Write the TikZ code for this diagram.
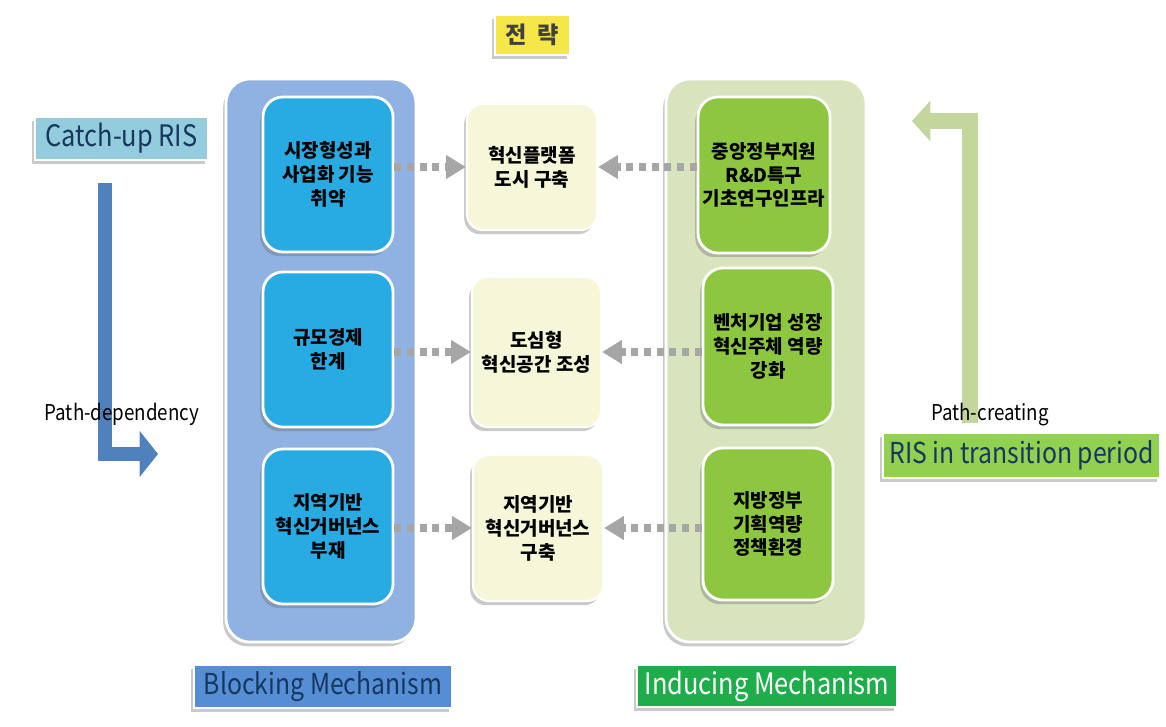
\documentclass[tikz,border=0pt]{standalone}
\usepackage{fontspec}
\setmainfont{Noto Sans CJK KR}
\newfontfamily\narrowfont{Noto Sans CJK KR}[FakeStretch=0.86]
\usetikzlibrary{arrows.meta, shadows, calc}

\definecolor{blockbg}{RGB}{143,178,226}
\definecolor{blockbox}{RGB}{40,170,226}
\definecolor{midbg}{RGB}{246,246,216}
\definecolor{inducebg}{RGB}{215,228,189}
\definecolor{inducebox}{RGB}{141,198,63}
\definecolor{catchbg}{RGB}{147,205,221}
\definecolor{transbg}{RGB}{146,208,80}
\definecolor{blocklbl}{RGB}{85,142,213}
\definecolor{inducelbl}{RGB}{31,173,75}
\definecolor{strategy}{RGB}{245,230,74}
\definecolor{darkblue}{RGB}{23,55,94}
\definecolor{dotgray}{RGB}{166,166,166}
\definecolor{pdblue}{RGB}{79,129,189}
\definecolor{pcgreen}{RGB}{195,214,155}

\tikzset{
  softshadow/.style={drop shadow={shadow xshift=-2pt, shadow yshift=-3pt, opacity=.35, fill=black!60}},
  container/.style={rounded corners=0.6cm, draw=white, line width=2pt, softshadow},
  box/.style={rounded corners=0.5cm, draw=white, line width=2pt, align=center,
    font=\fontsize{13.5}{17}\selectfont\bfseries, softshadow},
  midbox/.style={rounded corners=0.4cm, draw=white, line width=1.5pt, fill=midbg, align=center,
    font=\fontsize{13.5}{17}\selectfont\bfseries, softshadow},
  lbl/.style={draw=white, line width=0.8pt, inner sep=0pt, softshadow},
  dotarrow/.style={draw=dotgray, line width=5pt, dash pattern=on 5pt off 4pt,
    -{Triangle[length=14pt, width=16pt]}},
  pathtxt/.style={font=\narrowfont\fontsize{15.5}{18}\selectfont}
}

\begin{document}
\begin{tikzpicture}[x=0.025cm, y=-0.025cm]
\useasboundingbox (0,0) rectangle (1166,727);

% big frames
\node[container, fill=blockbg, minimum width=4.75cm, minimum height=14.075cm] (block) at (321,360.5) {};
\node[container, fill=inducebg, minimum width=5cm, minimum height=14.075cm] (induce) at (766,360.5) {};

% strategy title
\node[lbl, fill=strategy, text=black!75, minimum width=1.875cm, minimum height=1cm,
  font=\fontsize{16.5}{19}\selectfont\bfseries] (strat) at (532.5,35) {전\ \ 략};

% blocking side
\node[box, fill=blockbox, minimum width=3.25cm, minimum height=3.875cm] (b1) at (328,174.5) {시장형성과\\사업화 기능\\취약};
\node[box, fill=blockbox, minimum width=3.25cm, minimum height=3.875cm] (b2) at (328,349.5) {규모경제\\한계};
\node[box, fill=blockbox, minimum width=3.25cm, minimum height=3.875cm] (b3) at (328,526.5) {지역기반\\혁신거버넌스\\부재};

% strategies
\node[midbox, minimum width=3.25cm, minimum height=3.15cm] (m1) at (532,167) {혁신플랫폼\\도시 구축};
\node[midbox, minimum width=3.225cm, minimum height=3.75cm] (m2) at (536.5,352) {도심형\\혁신공간 조성};
\node[midbox, minimum width=3.25cm, minimum height=3.65cm] (m3) at (538,528) {지역기반\\혁신거버넌스\\구축};

% inducing side
\node[box, fill=inducebox, minimum width=3.3cm, minimum height=3.9cm] (g1) at (764,175) {중앙정부지원\\R\&D특구\\기초연구인프라};
\node[box, fill=inducebox, minimum width=3.25cm, minimum height=3.925cm] (g2) at (768,346.5) {벤처기업 성장\\혁신주체 역량\\강화};
\node[box, fill=inducebox, minimum width=3.25cm, minimum height=3.8cm] (g3) at (768,524) {지방정부\\기획역량\\정책환경};

% dotted arrows
\foreach \i in {1,2,3}{
  \draw[dotarrow] (m\i.west -| b\i.east) -- (m\i.west);
  \draw[dotarrow] (m\i.east -| g\i.west) -- (m\i.east);
}

% labels
\node[lbl, fill=catchbg, text=darkblue, minimum width=4.325cm, minimum height=1.075cm,
  font=\narrowfont\fontsize{21}{24}\selectfont] (catch) at (121.5,138.5) {Catch-up RIS};
\node[lbl, fill=transbg, text=darkblue, minimum width=6.925cm, minimum height=1.125cm,
  font=\narrowfont\fontsize{20.5}{24}\selectfont] (trans) at (1021.5,455.5) {RIS in transition period};
\node[lbl, fill=blocklbl, text=darkblue, minimum width=6.45cm, minimum height=1.075cm,
  font=\narrowfont\fontsize{20.5}{24}\selectfont] (blk) at (323,686.5) {Blocking Mechanism};
\node[lbl, fill=inducelbl, text=white, minimum width=6.5cm, minimum height=1.05cm,
  font=\narrowfont\fontsize{21}{24}\selectfont] (ind) at (767,686) {Inducing Mechanism};

% path arrows
\coordinate (pdS) at (105,183);
\coordinate (pdE) at (158,454);
\draw[white, line width=13pt, -{Triangle[length=17pt, width=38pt]}] ($(pdS)+(0,-2)$) |- ($(pdE)+(2,0)$);
\draw[pdblue, line width=10.5pt, -{Triangle[length=13pt, width=32pt]}] (pdS) |- (pdE);

\coordinate (pcS) at (970,423);
\coordinate (pcE) at (912,121);
\draw[white, line width=14pt, -{Triangle[length=16pt, width=33pt]}] ($(pcS)+(0,2)$) |- ($(pcE)+(-2,0)$);
\draw[pcgreen, line width=11pt, -{Triangle[length=13pt, width=28pt]}] (pcS) |- (pcE);

\node[pathtxt] (pdtxt) at (122,414) {Path-dependency};
\node[pathtxt] (pctxt) at (990,415) {Path-creating};
\end{tikzpicture}
\end{document}
